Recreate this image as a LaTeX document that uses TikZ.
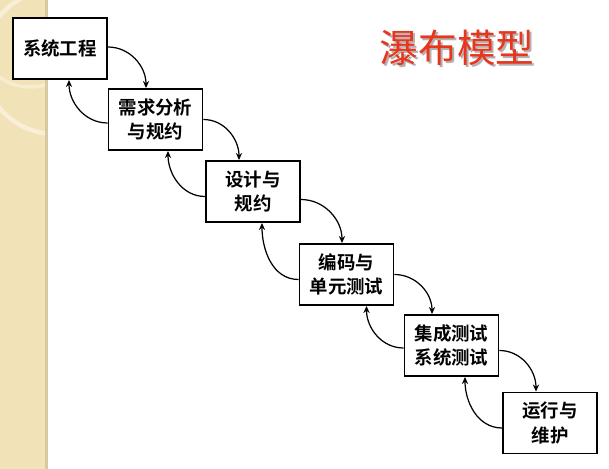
\documentclass[tikz,border=0pt]{standalone}
\usepackage{fontspec}
\newfontfamily\cjk{Noto Sans CJK SC}
\newfontfamily\cjkbold{Noto Sans CJK SC Bold}
\usetikzlibrary{arrows.meta, positioning}
\definecolor{stripbeige}{HTML}{F2E2B8}
\definecolor{stripedge}{HTML}{D8C9A2}
\definecolor{titlered}{HTML}{E8361E}
\tikzset{
  phase/.style={draw=black, line width=1.1pt, fill=white, minimum width=1.88cm,
    minimum height=1.22cm, align=center, font=\cjkbold\fontsize{10.5}{14}\selectfont,
    inner sep=1pt},
  fwd/.style={-{Stealth[length=4pt,width=3.5pt]}, line width=0.7pt},
  back/.style={-{Stealth[length=4pt,width=3.5pt]}, line width=0.7pt}
}
\begin{document}
\begin{tikzpicture}[x=0.02cm, y=-0.02cm]
  \useasboundingbox (0,0) rectangle (609,469);
  % left strip
  \fill[stripbeige] (0,0) rectangle (45,469);
  \fill[stripedge] (45,0) rectangle (48,469);
  \begin{scope}
    \clip (0,0) rectangle (45,469);
    \draw[white, opacity=0.45, line width=2.5pt] (55,62) circle (72);
    \draw[white, opacity=0.35, line width=2pt] (30,35) circle (52);
  \end{scope}
  % title
  \node[text=gray!60, font=\cjk\fontsize{22}{26}\selectfont] at (459,50) {瀑布模型};
  \node[text=titlered, font=\cjk\fontsize{22}{26}\selectfont] (title) at (457,48) {瀑布模型};
  % phases
  \node[phase] (sys)  at (60,48.5)    {系统工程};
  \node[phase] (req)  at (155.5,119.5) {需求分析\\与规约};
  \node[phase] (des)  at (253,191.5)  {设计与\\规约};
  \node[phase] (code) at (346.5,274.5) {编码与\\单元测试};
  \node[phase] (test) at (451.5,345.5) {集成测试\\系统测试};
  \node[phase] (ops)  at (550,423)    {运行与\\维护};
  % forward arrows
  \draw[fwd] ([yshift=0.03cm]sys.east)  to[out=0,in=90] ([xshift=-0.19cm]req.north);
  \draw[fwd] (req.east)                 to[out=0,in=90] ([xshift=-0.28cm]des.north);
  \draw[fwd] ([yshift=-0.16cm]des.east) to[out=0,in=90] ([xshift=-0.09cm]code.north);
  \draw[fwd] (code.east)                to[out=0,in=90] ([xshift=-0.39cm]test.north);
  \draw[fwd] ([yshift=-0.1cm]test.east) to[out=0,in=90] ([xshift=-0.28cm]ops.north);
  % backward arrows
  \draw[back] ([yshift=-0.07cm]req.west)  to[out=180,in=-90] ([xshift=0.18cm]sys.south);
  \draw[back] ([yshift=-0.1cm]des.west)   to[out=180,in=-90] ([xshift=0.25cm]req.south);
  \draw[back] ([yshift=-0.1cm]code.west)  to[out=180,in=-90] ([xshift=0.18cm]des.south);
  \draw[back] ([yshift=-0.05cm]test.west) to[out=180,in=-90] ([xshift=0.4cm]code.south);
  \draw[back] ([yshift=-0.1cm]ops.west)   to[out=180,in=-90] ([xshift=0.27cm]test.south);
\end{tikzpicture}
\end{document}
